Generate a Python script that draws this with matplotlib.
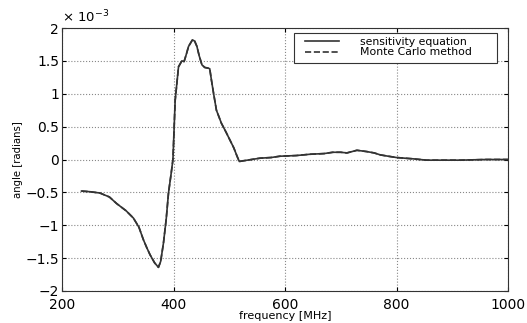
import matplotlib
matplotlib.use("Agg")

import matplotlib.pyplot as plt
from matplotlib.patches import Rectangle
from matplotlib.ticker import FuncFormatter
import numpy as np

# frequency [MHz] and angle [x 1e-3 radians]
freq = [235, 250, 268, 285, 298, 315, 328, 338, 346, 352, 358, 366, 373, 377,
        382, 387, 391, 396, 399, 403, 409, 415, 419, 423, 427, 434, 438, 442,
        446, 451, 456, 462, 465, 468, 472, 477, 486, 494, 501, 508, 514, 518,
        525, 540, 555, 575, 591, 620, 645, 670, 686, 700, 711, 729, 747, 760,
        771, 785, 800, 830, 854, 880, 914, 960, 1000]
sens = [-0.48, -0.49, -0.51, -0.57, -0.67, -0.78, -0.89, -1.03, -1.22, -1.34,
        -1.45, -1.57, -1.64, -1.55, -1.27, -0.90, -0.51, -0.20, 0.00, 0.90,
        1.41, 1.50, 1.49, 1.60, 1.72, 1.82, 1.80, 1.72, 1.58, 1.44, 1.40, 1.39,
        1.38, 1.21, 1.00, 0.75, 0.55, 0.42, 0.30, 0.18, 0.05, -0.03, -0.02,
        0.00, 0.02, 0.03, 0.05, 0.06, 0.08, 0.09, 0.11, 0.11, 0.10, 0.14,
        0.12, 0.10, 0.07, 0.05, 0.03, 0.01, -0.01, -0.01, -0.01, 0.00, 0.00]
monte = sens  # the two curves lie on top of each other

plt.rcParams['font.family'] = ['DejaVu Sans']

fig = plt.figure(figsize=(5.27, 3.23), dpi=100)
ax = fig.add_axes([62 / 527, 1 - 291 / 323, 446 / 527, 263 / 323])

ax.plot(freq, np.array(sens) * 1e-3, color='#333333', lw=1.2, ls='-',
        label='sensitivity equation')
ax.plot(freq, np.array(monte) * 1e-3, color='#333333', lw=1.2, ls='--',
        label='Monte Carlo method')

ax.set_xlim(200, 1000)
ax.set_ylim(-2e-3, 2e-3)
ax.set_xticks([200, 400, 600, 800, 1000])
ax.set_yticks(np.arange(-2, 2.01, 0.5) * 1e-3)
ax.yaxis.set_major_formatter(
    FuncFormatter(lambda v, p: ('%g' % round(v * 1e3, 3)).replace('-', '\u2212')))
ax.text(0.0, 1.01, '\u00d7 10$^{\u22123}$', transform=ax.transAxes,
        fontsize=9.5, va='bottom', ha='left')

ax.tick_params(direction='in', labelsize=10, top=True, right=True, length=3)
ax.tick_params(axis='x', pad=5)
ax.tick_params(axis='y', pad=2)
ax.grid(True, ls=':', color='#888888', lw=0.8)
for s in ax.spines.values():
    s.set_color('#333333')

ax.set_xlabel('frequency [MHz]', fontsize=8, labelpad=-0.5)
ax.set_ylabel('angle [radians]', fontsize=7.3, labelpad=2)

# legend box is wider than its content in the original
ax.add_patch(Rectangle((0.52, 0.867), 0.455, 0.114, transform=ax.transAxes,
                       facecolor='white', edgecolor='#333333', lw=0.8,
                       zorder=4))
leg = ax.legend(loc='upper left', fontsize=7.8, frameon=False,
                handlelength=3.1, handletextpad=2.0, borderpad=0,
                labelspacing=0.05, borderaxespad=0,
                bbox_to_anchor=(0.545, 0.966))
leg.set_zorder(5)

fig.savefig('out.png', dpi=100)
